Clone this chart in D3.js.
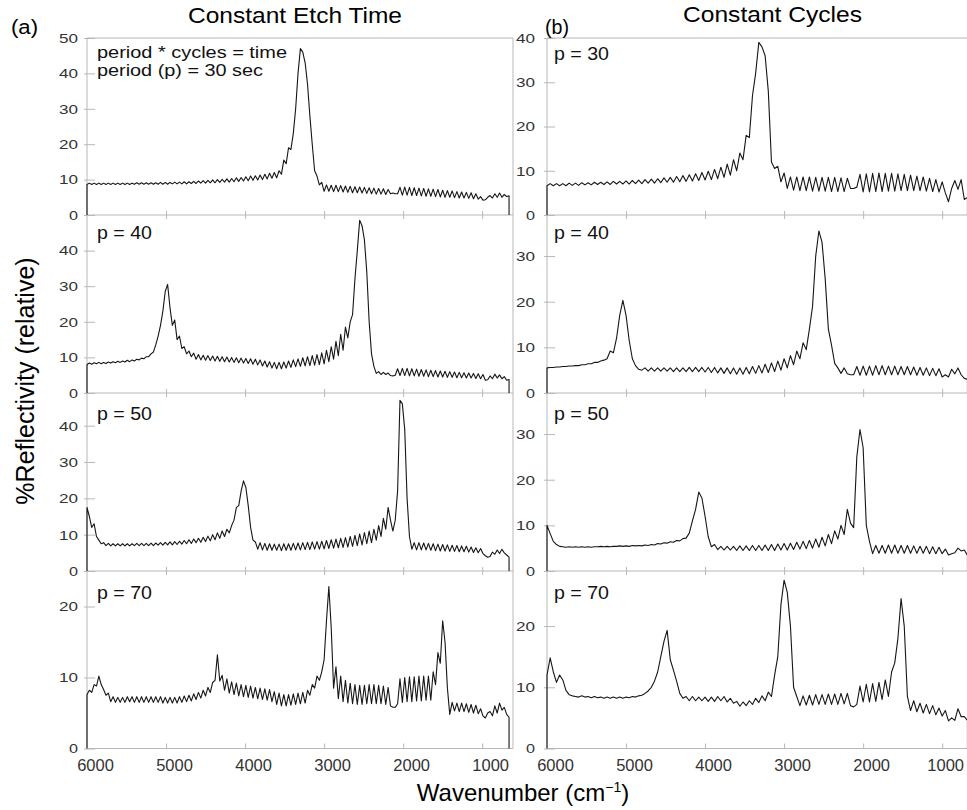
<!DOCTYPE html>
<html>
<head>
<meta charset="utf-8">
<script src="https://cdn.jsdelivr.net/npm/d3@7"></script>
<style>
  body { margin: 0; background: #fff; }
  text { font-family: "Liberation Sans", Arial, sans-serif; }
</style>
</head>
<body>
<div id="chart"></div>
<script>
// wavenumber grids (cm-1), left column sampled every 30, right every 40
const wnLeft = d3.range(6000, 650, -30)
const wnRight = d3.range(6000, 670, -40)

// Constant Etch Time (left column)
const leftP30 = [
  8.6,9.0,8.6,9.0,8.6,9.0,8.6,9.0,8.6,9.0,
  8.6,9.0,8.6,9.0,8.6,9.0,8.6,9.0,8.6,9.0,
  8.7,9.1,8.7,9.1,8.7,9.1,8.7,9.1,8.7,9.1,
  8.7,9.2,8.7,9.2,8.7,9.2,8.8,9.3,8.8,9.3,
  8.8,9.4,8.8,9.4,8.9,9.5,8.9,9.6,9.0,9.7,
  9.0,9.8,9.1,9.9,9.1,10.0,9.2,10.1,9.3,10.2,
  9.3,10.3,9.4,10.5,9.5,10.6,9.6,10.8,9.7,11.0,
  9.8,11.1,9.9,11.3,10.0,11.5,10.2,11.8,10.4,12.0,
  10.5,12.5,11.5,15.5,14.5,19,18.5,23,30,40,
  47,46,43,37,28,20,12.5,11,8.5,9.2,
  6.7,8.5,6.7,8.4,6.6,8.4,6.6,8.3,6.5,8.2,
  6.4,8.1,6.3,8.0,6.3,7.9,6.2,7.8,6.1,7.7,
  6.0,7.6,5.9,7.5,5.9,7.4,5.8,7.2,6.0,6.2,
  6.0,6.0,7.8,5.6,7.9,5.6,7.8,5.5,7.7,5.5,
  7.6,5.4,7.5,5.3,7.4,5.3,7.3,5.2,7.2,5.1,
  7.0,5.0,6.9,5.0,6.8,4.9,6.6,4.8,6.5,4.8,
  6.4,4.7,6.3,4.6,6.0,4.5,5.2,4.2,4.3,5.0,
  5.5,4.8,6.0,5.0,6.2,5.0,5.8,5.2,5.4
]
const leftP40 = [
  8.0,8.4,8.1,8.5,8.2,8.6,8.2,8.6,8.3,8.7,
  8.4,8.8,8.5,8.9,8.6,9.0,8.7,9.2,8.8,9.3,
  9.0,9.5,9.3,9.8,9.6,10.2,10.2,11.0,11.5,13.5,
  16,19,23,28.5,30.5,24,19,20.5,15,16,
  12.5,13,11,11.8,10.2,11.2,9.5,10.8,9.3,10.6,
  9.2,10.5,9.1,10.4,9.0,10.3,8.9,10.2,8.8,10.1,
  8.7,10.0,8.6,9.9,8.5,9.8,8.4,9.7,8.3,9.6,
  8.1,9.5,7.9,9.3,7.6,9.0,7.3,8.8,7.0,8.6,
  6.8,8.6,6.8,8.7,7.0,9.0,7.2,9.3,7.4,9.6,
  7.5,9.9,7.6,10.2,7.7,10.5,7.8,10.8,8.0,11.3,
  8.2,12.0,8.8,13.0,9.5,14.5,10.5,16.5,12.0,18.5,
  15.5,20,22,32,40,48.5,47,43,34,20,
  11,7.5,5.5,6.0,5.2,5.8,5.2,5.6,4.9,4.8,
  5.0,6.8,4.9,6.9,4.9,6.9,4.8,6.8,4.8,6.7,
  4.7,6.6,4.7,6.5,4.6,6.4,4.6,6.3,4.5,6.2,
  4.5,6.1,4.4,6.0,4.4,5.9,4.3,5.8,4.3,5.7,
  4.2,5.6,4.2,5.5,4.1,5.4,4.0,5.2,3.6,3.7,
  4.8,4.0,5.3,4.2,5.1,4.0,4.6,3.6,3.8
]
const leftP50 = [
  17.5,15,12,13,9.5,8.5,7.5,7.8,7.0,7.6,
  6.9,7.5,6.9,7.5,6.9,7.5,6.9,7.5,6.9,7.5,
  7.0,7.6,7.0,7.6,7.0,7.6,7.0,7.7,7.0,7.7,
  7.1,7.8,7.1,7.9,7.2,8.0,7.2,8.1,7.3,8.2,
  7.4,8.4,7.5,8.6,7.6,8.8,7.8,9.0,7.9,9.3,
  8.1,9.6,8.3,10.0,8.6,10.5,9.0,11.0,9.5,11.5,
  10.5,12.5,14,17.5,18,22,24.8,23,18,12,
  8.5,8.0,6.0,7.8,5.8,7.6,5.7,7.5,5.7,7.4,
  5.7,7.4,5.6,7.5,5.7,7.5,5.7,7.6,5.8,7.7,
  5.8,7.8,5.9,7.9,5.9,8.0,6.0,8.1,6.0,8.2,
  6.1,8.4,6.2,8.6,6.3,8.8,6.4,9.0,6.5,9.2,
  6.6,9.5,6.8,9.8,7.0,10.2,7.2,10.6,7.5,11.0,
  7.8,11.5,8.5,12.5,9.5,14.5,11.5,17.5,14.0,11.0,
  14,22,47,46,39,20,9.5,6.0,7.8,5.8,
  7.8,5.8,7.7,5.8,7.6,5.7,7.5,5.6,7.4,5.5,
  7.3,5.5,7.2,5.4,7.1,5.4,7.0,5.3,6.9,5.3,
  6.8,5.2,6.6,5.1,6.4,5.0,6.2,4.8,4.2,3.8,
  4.0,5.2,4.6,5.8,4.8,6.0,5.0,4.4,3.8
]
const leftP70 = [
  7.6,8.2,7.9,9.0,8.8,10.2,9.0,8.3,7.5,7.8,
  6.6,7.3,6.5,7.2,6.5,7.2,6.5,7.3,6.6,7.3,
  6.5,7.3,6.5,7.3,6.5,7.3,6.5,7.3,6.5,7.3,
  6.5,7.3,6.4,7.2,6.4,7.2,6.4,7.2,6.4,7.3,
  6.5,7.4,6.6,7.5,6.7,7.7,6.9,7.9,7.1,8.2,
  7.4,8.6,7.9,9.3,9.6,13.2,9.5,10.3,8.2,9.8,
  7.8,9.4,7.6,9.2,7.4,9.0,7.3,8.9,7.2,8.8,
  7.1,8.6,7.0,8.5,6.9,8.4,6.8,8.3,6.6,8.0,
  6.2,7.8,6.0,7.6,6.0,7.6,6.1,7.7,6.2,7.8,
  6.3,7.9,6.4,8.2,7.5,9.0,8.5,10.2,9.6,10.8,
  12.5,18,22.8,17,8.5,11.5,7.0,10.2,6.6,9.6,
  6.4,9.2,6.3,9.0,6.2,8.9,6.2,8.9,6.3,9.0,
  6.3,9.0,6.3,8.9,6.3,8.8,6.2,8.6,6.0,5.8,
  5.8,6.3,9.8,6.5,10.0,6.6,10.1,6.6,10.1,6.7,
  10.2,6.7,10.2,6.8,10.2,6.8,10.8,9.0,13.5,12.0,
  18.0,15,8.5,4.8,6.5,5.3,6.4,5.2,6.4,5.2,
  6.3,5.1,6.2,5.0,6.1,4.9,5.6,4.6,4.3,5.0,
  5.2,4.6,6.0,5.0,6.4,5.4,5.8,4.8,4.4
]

// Constant Cycles (right column)
const rightP30 = [
  6.6,7.1,6.6,7.1,6.6,7.1,6.6,7.2,6.7,7.2,
  6.7,7.3,6.8,7.3,6.8,7.4,6.9,7.4,6.9,7.5,
  6.9,7.6,7.0,7.6,7.0,7.7,7.0,7.8,7.1,7.9,
  7.1,8.0,7.2,8.1,7.2,8.2,7.3,8.4,7.4,8.5,
  7.4,8.7,7.5,8.9,7.6,9.1,7.7,9.3,7.8,9.6,
  7.9,9.9,8.0,10.3,8.2,10.8,8.5,11.5,9.0,12.5,
  10.0,14.0,12.5,18,17.5,27,32,39,38,36,
  28,12,10.5,11,7.5,9.5,6.0,8.6,5.6,8.6,
  5.5,8.6,5.5,8.6,5.4,8.5,5.4,8.5,5.4,8.5,
  5.3,8.5,5.3,8.4,5.3,8.3,6.0,6.0,6.3,9.2,
  5.2,9.3,5.2,9.4,5.3,9.5,5.3,9.4,5.4,9.4,
  5.4,9.3,5.5,9.2,5.5,9.0,5.5,8.8,5.5,8.6,
  5.4,8.3,5.3,8.0,5.2,7.5,5.0,3.0,6.0,7.8,
  5.8,8.0,3.5,4.0
]
const rightP40 = [
  5.5,5.6,5.6,5.7,5.7,5.8,5.8,5.9,5.9,6.0,
  6.0,6.2,6.2,6.4,6.4,6.7,6.7,7.0,7.2,7.5,
  9.2,8.8,12,17,20.3,17,11.5,7.5,6.0,5.2,
  5.0,5.5,4.8,5.5,4.8,5.5,4.8,5.5,4.8,5.5,
  4.7,5.5,4.7,5.5,4.7,5.6,4.7,5.6,4.7,5.6,
  4.6,5.6,4.5,5.6,4.4,5.5,4.3,5.5,4.2,5.5,
  4.1,5.5,4.1,5.6,4.2,5.8,4.3,6.0,4.4,6.3,
  4.5,6.6,4.7,7.0,5.0,7.5,5.5,8.2,6.2,9.2,
  7.5,11,9.5,14,19,30,35.5,33,25,14,
  10.5,6.5,5.5,4.3,5.5,4.2,4.0,4.0,5.8,3.9,
  5.9,3.9,5.9,3.9,6.0,4.0,6.0,4.0,5.9,4.0,
  5.9,4.0,5.8,4.0,5.8,4.0,5.7,3.9,5.6,3.9,
  5.5,3.8,5.4,3.8,5.3,3.5,4.0,3.5,5.2,4.2,
  5.5,4.0,3.2,3.0
]
const rightP50 = [
  10,8.2,6.5,5.8,5.4,5.3,5.2,5.3,5.2,5.3,
  5.2,5.3,5.2,5.3,5.2,5.3,5.3,5.4,5.3,5.4,
  5.3,5.4,5.4,5.5,5.4,5.5,5.4,5.6,5.5,5.6,
  5.5,5.7,5.6,5.8,5.7,6.0,5.9,6.2,6.1,6.4,
  6.3,6.7,6.6,7.1,7.2,8.3,11,13.5,17.3,16,
  12,7.5,5.3,5.8,4.7,5.4,4.6,5.4,4.6,5.4,
  4.5,5.5,4.5,5.5,4.5,5.6,4.5,5.6,4.5,5.7,
  4.5,5.8,4.5,5.9,4.6,6.0,4.6,6.1,4.7,6.3,
  4.8,6.5,4.9,6.7,5.0,7.0,5.2,7.4,5.5,8.0,
  6.0,8.8,7.0,10,8.0,13.5,10.5,9.5,25,31,
  27,10,6.5,3.8,5.6,3.9,5.6,3.9,5.7,3.9,
  5.7,3.9,5.6,3.9,5.6,3.9,5.5,3.9,5.4,3.9,
  5.4,3.8,5.3,3.8,5.2,3.8,4.8,3.5,3.8,4.0,
  5.0,4.4,4.6,3.4
]
const rightP70 = [
  12,14.8,12.5,10.8,12,11.2,9.5,8.8,8.6,8.5,
  8.4,8.6,8.4,8.5,8.3,8.5,8.3,8.4,8.2,8.4,
  8.2,8.4,8.2,8.4,8.2,8.4,8.3,8.5,8.4,8.6,
  8.7,9.0,9.4,10,11,12.5,15,17.5,19.3,14.5,
  12.8,11,9.0,8.2,8.5,7.8,8.5,7.8,8.4,7.8,
  8.4,7.7,8.4,7.7,8.5,7.8,8.5,7.6,8.2,7.4,
  7.7,6.9,7.6,7.0,7.8,7.2,8.2,7.5,8.6,7.8,
  9.2,8.5,12,15,23.5,27.5,25.5,20,10,8.5,
  7.0,8.6,7.1,8.7,7.1,8.8,7.2,8.8,7.2,8.9,
  7.2,8.9,7.2,9.0,7.3,9.0,7.0,6.8,7.2,10.2,
  7.6,10.5,7.6,10.6,7.7,10.8,8.0,11.2,8.5,12.5,
  14,18,24.5,20,8.5,6.2,7.8,6.0,7.4,5.8,
  7.2,5.7,7.0,5.5,6.6,5.3,6.2,4.5,5.0,4.6,
  6.5,5.2,5.2,4.6
]

const leftSeries = [leftP30, leftP40, leftP50, leftP70]
const rightSeries = [rightP30, rightP40, rightP50, rightP70]
const leftMax = [50, 50, 49, 25]
const rightMax = [40, 39, 39, 29]
const leftTicks = [[0,10,20,30,40,50],[0,10,20,30,40],[0,10,20,30,40],[0,10,20]]
const rightTicks = [[0,10,20,30,40],[0,10,20,30],[0,10,20,30],[0,10,20]]
const panelLabels = ['p = 30', 'p = 40', 'p = 50', 'p = 70']
const xTickValues = [6000, 5000, 4000, 3000, 2000, 1000]

// layout
const W = 967, H = 810
const rowTop = [38, 215, 393, 571]
const rowBottom = [215, 393, 571, 748.5]
const labelBase = [60, 239, 420, 599]
const frameColor = '#b8b8b8'
const lineColor = '#161616'

const columns = [
  {x0: 87, x1: 513, series: leftSeries, wn: wnLeft, max: leftMax, ticks: leftTicks, pad: 9, labelX: 97},
  {x0: 547, x1: 973, series: rightSeries, wn: wnRight, max: rightMax, ticks: rightTicks, pad: 12, labelX: 554}
]

const svg = d3.select('#chart')
  .append('svg')
  .attr('width', W)
  .attr('height', H)
  .style('background', '#fff')

columns.forEach((col, ci) => {
  const x = d3.scaleLinear().domain([6000, 610]).range([col.x0, col.x1])
  const g = svg.append('g')

  // frame
  g.append('line')
    .attr('x1', col.x0).attr('x2', col.x0)
    .attr('y1', rowTop[0]).attr('y2', rowBottom[3])
    .attr('stroke', frameColor)
  g.append('line')
    .attr('x1', col.x0).attr('x2', col.x1)
    .attr('y1', rowTop[0]).attr('y2', rowTop[0])
    .attr('stroke', frameColor)
  g.append('line')
    .attr('x1', col.x1).attr('x2', col.x1)
    .attr('y1', rowTop[0]).attr('y2', rowBottom[3])
    .attr('stroke', frameColor)

  col.series.forEach((vals, ri) => {
    const y = d3.scaleLinear()
      .domain([0, col.max[ri]])
      .range([rowBottom[ri], rowTop[ri]])

    // baseline with x ticks
    const last = ri === 3
    const xAxis = g.append('g')
      .attr('transform', `translate(0,${rowBottom[ri]})`)
      .call(d3.axisBottom(x)
        .tickValues(last ? xTickValues : xTickValues.slice(1))
        .tickSize(4)
        .tickPadding(10)
        .tickFormat(last ? d3.format('d') : ''))
    xAxis.select('.domain')
      .attr('d', `M${col.x0},0H${col.x1}`)
      .attr('stroke', frameColor)
    xAxis.selectAll('.tick line')
      .attr('stroke', frameColor)
      .attr('y1', last ? -5 : -4)
      .attr('y2', last ? 0 : 4)
    xAxis.selectAll('.tick')
      .filter(d => d === 6000)
      .select('line').remove()
    xAxis.selectAll('.tick text')
      .attr('dx', d => (ci === 1 && d === 1000) ? 3 : 8)
      .attr('y', 11)
      .attr('font-size', 16.5)
      .attr('fill', '#333')
      .attr('font-family', '"Liberation Sans", Arial, sans-serif')

    // y axis ticks
    const yAxis = g.append('g')
      .attr('transform', `translate(${col.x0},0)`)
      .call(d3.axisLeft(y)
        .tickValues(col.ticks[ri])
        .tickSize(0)
        .tickPadding(col.pad)
        .tickFormat(d3.format('d')))
    yAxis.select('.domain').remove()
    yAxis.selectAll('.tick line')
      .attr('x1', -3)
      .attr('x2', 8)
      .attr('stroke', frameColor)
    yAxis.selectAll('.tick text')
      .attr('font-size', 13.5)
      .attr('fill', '#333')
      .attr('font-family', '"Liberation Sans", Arial, sans-serif')
      .attr('textLength', d => String(d).length === 1 ? 9 : 19)
      .attr('lengthAdjust', 'spacingAndGlyphs')

    // spectrum trace, starting and ending on the zero line
    const pts = col.wn.map((w, i) => [w, vals[i]])
    pts.unshift([col.wn[0], 0])
    pts.push([col.wn[col.wn.length - 1], 0])
    g.append('path')
      .datum(pts)
      .attr('fill', 'none')
      .attr('stroke', lineColor)
      .attr('stroke-width', 1.1)
      .attr('stroke-linejoin', 'round')
      .attr('d', d3.line().x(d => x(d[0])).y(d => y(d[1])))

    // panel label
    if (!(ci === 0 && ri === 0)) {
      g.append('text')
        .attr('x', col.labelX)
        .attr('y', labelBase[ri])
        .attr('font-size', 18)
        .attr('textLength', 55)
        .attr('lengthAdjust', 'spacingAndGlyphs')
        .attr('fill', '#111')
        .text(panelLabels[ri])
    }
  })
})

// note in the first panel
svg.append('text')
  .attr('x', 97).attr('y', 58)
  .attr('font-size', 16)
  .attr('textLength', 190).attr('lengthAdjust', 'spacingAndGlyphs')
  .attr('fill', '#111')
  .text('period * cycles = time')
svg.append('text')
  .attr('x', 97).attr('y', 76)
  .attr('font-size', 16)
  .attr('textLength', 166).attr('lengthAdjust', 'spacingAndGlyphs')
  .attr('fill', '#111')
  .text('period (p) = 30 sec')

// titles
svg.append('text')
  .attr('x', 11).attr('y', 34)
  .attr('font-size', 20)
  .attr('textLength', 27).attr('lengthAdjust', 'spacingAndGlyphs')
  .text('(a)')
svg.append('text')
  .attr('x', 545).attr('y', 34)
  .attr('font-size', 20)
  .attr('textLength', 24).attr('lengthAdjust', 'spacingAndGlyphs')
  .text('(b)')
svg.append('text')
  .attr('x', 188).attr('y', 23)
  .attr('font-size', 22)
  .attr('textLength', 214).attr('lengthAdjust', 'spacingAndGlyphs')
  .text('Constant Etch Time')
svg.append('text')
  .attr('x', 683).attr('y', 22)
  .attr('font-size', 22)
  .attr('textLength', 179).attr('lengthAdjust', 'spacingAndGlyphs')
  .text('Constant Cycles')

// axis titles
svg.append('text')
  .attr('transform', 'translate(34,381) rotate(-90)')
  .attr('text-anchor', 'middle')
  .attr('font-size', 25)
  .text('%Reflectivity (relative)')

const xt = svg.append('text')
  .attr('x', 523).attr('y', 801)
  .attr('text-anchor', 'middle')
  .attr('font-size', 24)
xt.append('tspan').text('Wavenumber (cm')
xt.append('tspan').attr('font-size', 14).attr('dy', -9).text('\u22121')
xt.append('tspan').attr('dy', 9).text(')')
</script>
</body>
</html>
